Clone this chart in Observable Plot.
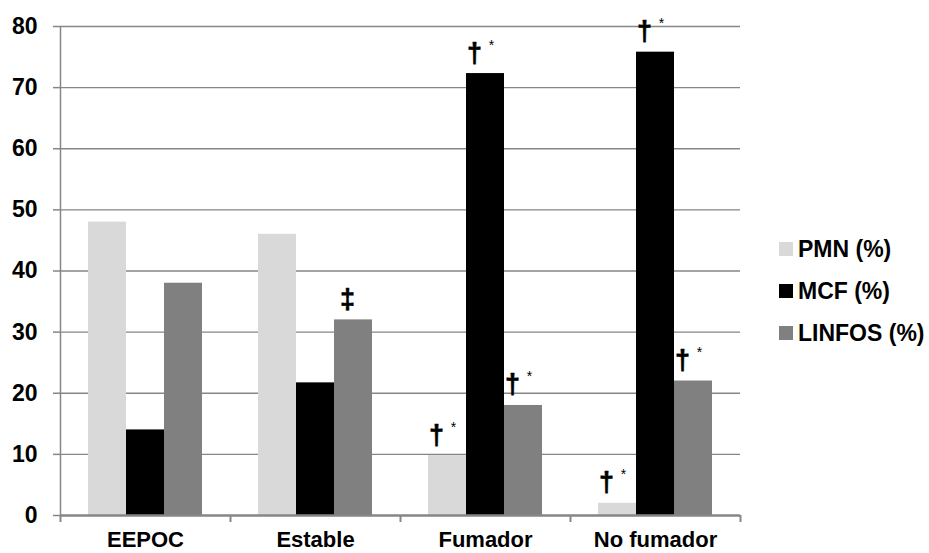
<!DOCTYPE html>
<html>
<head>
<meta charset="utf-8">
<script src="https://cdn.jsdelivr.net/npm/d3@7"></script>
<script src="https://cdn.jsdelivr.net/npm/@observablehq/plot@0.6"></script>
<style>
  html, body { margin: 0; padding: 0; background: #fff; }
  #wrap { position: relative; width: 929px; height: 553px; font-family: "Liberation Sans", Arial, sans-serif; }
  #legend { position: absolute; left: 779px; top: 228px; }
  .item { display: flex; align-items: center; height: 42px; font-size: 23px; font-weight: bold; color: #000; white-space: nowrap; }
  .sw { width: 14px; height: 14px; margin-right: 5px; }
</style>
</head>
<body>
<div id="wrap"></div>
<script>
const categories = ["EEPOC", "Estable", "Fumador", "No fumador"];
const series = ["PMN (%)", "MCF (%)", "LINFOS (%)"];
const colors = ["#d9d9d9", "#000000", "#808080"];
const pmn = [48, 46, 9.8, 2];
const mcf = [14, 21.7, 72.3, 75.8];
const linfos = [38, 32, 18, 22];
const yTicks = [0, 10, 20, 30, 40, 50, 60, 70, 80];

// significance annotations
const annCategory = ["Estable", "Fumador", "Fumador", "Fumador", "No fumador", "No fumador", "No fumador"];
const annSeries = ["LINFOS (%)", "PMN (%)", "MCF (%)", "LINFOS (%)", "PMN (%)", "MCF (%)", "LINFOS (%)"];
const annSymbol = ["‡", "†", "†", "†", "†", "†", "†"];
const annStar = ["", "*", "*", "*", "*", "*", "*"];

const valuesBySeries = [pmn, mcf, linfos];
const rows = [];
series.forEach((s, si) => categories.forEach((c, ci) => rows.push({category: c, series: s, si, value: valuesBySeries[si][ci]})));
const ann = annCategory.map((c, i) => {
  const si = series.indexOf(annSeries[i]);
  return {category: c, si, value: valuesBySeries[si][categories.indexOf(c)], symbol: annSymbol[i], star: annStar[i]};
});

const band = 170, barW = 38, off = 28;
const barMarks = series.map((s, si) => Plot.barY(rows.filter(d => d.si === si), {
  x: "category", y: "value", fill: "series",
  insetLeft: off + barW * si, insetRight: band - off - barW * (si + 1)
}));
const centerDx = si => off + barW * si + barW / 2 - band / 2;

const annMarks = [];
series.forEach((s, si) => {
  const withStar = ann.filter(d => d.si === si && d.star);
  const noStar = ann.filter(d => d.si === si && !d.star);
  annMarks.push(Plot.text(withStar, {x: "category", y: "value", text: "symbol", dx: centerDx(si) - 11, dy: -12, lineAnchor: "bottom", fontSize: 27, fontWeight: "bold", fill: "#000", stroke: "#000", strokeWidth: 0.6}));
  annMarks.push(Plot.text(withStar, {x: "category", y: "value", text: "star", dx: centerDx(si) + 6, dy: -24, lineAnchor: "bottom", fontSize: 14, fill: "#000"}));
  annMarks.push(Plot.text(noStar, {x: "category", y: "value", text: "symbol", dx: centerDx(si) - 6, dy: -12, lineAnchor: "bottom", fontSize: 27, fontWeight: "bold", fill: "#000", stroke: "#000", strokeWidth: 0.6}));
});

const chart = Plot.plot({
  width: 929,
  height: 553,
  marginLeft: 60,
  marginRight: 189,
  marginTop: 26,
  marginBottom: 38,
  style: {fontFamily: "'Liberation Sans', Arial, sans-serif", background: "#fff", overflow: "visible"},
  x: {domain: categories, padding: 0, label: null},
  y: {domain: [0, 80], ticks: yTicks, label: null},
  color: {domain: series, range: colors},
  marks: [
    Plot.ruleY(yTicks.filter(t => t > 0), {stroke: "#868686", strokeWidth: 1.3}),
    ...barMarks,
    Plot.ruleX([0], {x: () => categories[0], dx: -band / 2, stroke: "#868686", strokeWidth: 1.5}),
    Plot.ruleY([0], {stroke: "#868686", strokeWidth: 2.5}),
    Plot.ruleX(categories, {x: d => d, y1: 0, y2: 0, insetBottom: -7, dx: -band / 2, stroke: "#868686", strokeWidth: 2}),
    Plot.ruleX([categories[categories.length - 1]], {x: d => d, y1: 0, y2: 0, insetBottom: -7, dx: band / 2, stroke: "#868686", strokeWidth: 2}),
    Plot.axisY({ticks: yTicks, tickSize: 7, tickPadding: 16, stroke: "#868686", strokeWidth: 1.5, fontSize: 23, fontWeight: "bold", fill: "#000", label: null}),
    Plot.axisX({tickSize: 0, tickPadding: 16, fontSize: 22, fontWeight: "bold", fill: "#000", label: null}),
    ...annMarks
  ]
});

const wrap = document.getElementById("wrap");
wrap.appendChild(chart);
const legend = document.createElement("div");
legend.id = "legend";
series.forEach((s, i) => {
  const item = document.createElement("div");
  item.className = "item";
  const sw = document.createElement("span");
  sw.className = "sw";
  sw.style.background = colors[i];
  item.appendChild(sw);
  item.appendChild(document.createTextNode(s));
  legend.appendChild(item);
});
wrap.appendChild(legend);
</script>
</body>
</html>
